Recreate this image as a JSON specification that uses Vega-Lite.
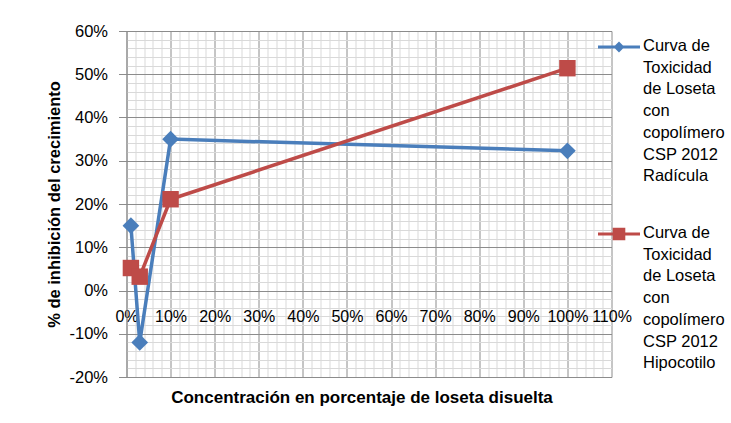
{
  "$schema": "https://vega.github.io/schema/vega-lite/v6.json",
  "width": 485,
  "height": 346,
  "autosize": {"type": "none"},
  "padding": {"left": 126.5, "top": 31, "right": 119.5, "bottom": 46},
  "background": "white",
  "config": {"view": {"stroke": null}, "font": "Liberation Sans"},
  "data": {
    "values": [
      {"s": "Curva de Toxicidad de Loseta con copolímero CSP 2012 Radícula", "x": 0.01, "y": 0.15},
      {"s": "Curva de Toxicidad de Loseta con copolímero CSP 2012 Radícula", "x": 0.03, "y": -0.12},
      {"s": "Curva de Toxicidad de Loseta con copolímero CSP 2012 Radícula", "x": 0.10, "y": 0.35},
      {"s": "Curva de Toxicidad de Loseta con copolímero CSP 2012 Radícula", "x": 1.00, "y": 0.323},
      {"s": "Curva de Toxicidad de Loseta con copolímero CSP 2012 Hipocotilo", "x": 0.01, "y": 0.052},
      {"s": "Curva de Toxicidad de Loseta con copolímero CSP 2012 Hipocotilo", "x": 0.03, "y": 0.032},
      {"s": "Curva de Toxicidad de Loseta con copolímero CSP 2012 Hipocotilo", "x": 0.10, "y": 0.211},
      {"s": "Curva de Toxicidad de Loseta con copolímero CSP 2012 Hipocotilo", "x": 1.00, "y": 0.514}
    ]
  },
  "layer": [
    {
      "transform": [{"filter": "false"}],
      "mark": {"type": "line"},
      "encoding": {
        "x": {"field": "x", "type": "quantitative", "scale": {"domain": [0, 1.1], "nice": false, "zero": false},
          "axis": {"orient": "top", "values": [0.02,0.04,0.06,0.08,0.12,0.14,0.16,0.18,0.22,0.24,0.26,0.28,0.32,0.34,0.36,0.38,0.42,0.44,0.46,0.48,0.52,0.54,0.56,0.58,0.62,0.64,0.66,0.68,0.72,0.74,0.76,0.78,0.82,0.84,0.86,0.88,0.92,0.94,0.96,0.98,1.02,1.04,1.06,1.08],
            "grid": true, "gridColor": "#d9d9d9", "gridOpacity": 1, "gridWidth": 1, "labels": false, "ticks": false, "domain": false, "title": null}},
        "y": {"field": "y", "type": "quantitative", "scale": {"domain": [-0.2, 0.6], "nice": false, "zero": false},
          "axis": {"orient": "right", "values": [-0.18,-0.16,-0.14,-0.12,-0.08,-0.06,-0.04,-0.02,0.02,0.04,0.06,0.08,0.12,0.14,0.16,0.18,0.22,0.24,0.26,0.28,0.32,0.34,0.36,0.38,0.42,0.44,0.46,0.48,0.52,0.54,0.56,0.58],
            "grid": true, "gridColor": "#d9d9d9", "gridOpacity": 1, "gridWidth": 1, "labels": false, "ticks": false, "domain": false, "title": null}}
      }
    },
    {
      "transform": [{"filter": "indexof(datum.s, 'Radícula') >= 0"}],
      "mark": {"type": "line", "strokeWidth": 3.5, "color": "#4a7ebb"},
      "encoding": {
        "x": {"field": "x", "type": "quantitative",
          "axis": {"orient": "bottom", "offset": -86.5, "values": [0,0.1,0.2,0.3,0.4,0.5,0.6,0.7,0.8,0.9,1.0,1.1], "format": ".0%",
            "grid": true, "gridColor": "#8c8c8c", "gridOpacity": 1, "domain": false, "ticks": false,
            "labelPadding": 18, "labelFontSize": 16, "labelColor": "black", "labelFlush": false, "labelOverlap": false,
            "title": "Concentración en porcentaje de loseta disuelta", "titleFontSize": 17, "titleFontWeight": "bold", "titleColor": "black", "titlePadding": 65, "titleX": 235}},
        "y": {"field": "y", "type": "quantitative",
          "axis": {"orient": "left", "values": [-0.2,-0.1,0,0.1,0.2,0.3,0.4,0.5,0.6], "format": ".0%", "labelExpr": "replace(datum.label, '−', '-')",
            "grid": true, "gridColor": "#8c8c8c", "gridOpacity": 1, "domain": true, "domainColor": "#8c8c8c", "ticks": true, "tickSize": 8, "tickColor": "#8c8c8c",
            "labelPadding": 11, "labelFontSize": 16.5, "labelColor": "black", "labelFlush": false, "labelOverlap": false,
            "title": "% de inhibición del crecimiento", "titleFontSize": 16.5, "titleFontWeight": "bold", "titleColor": "black", "titlePadding": 6}}
      }
    },
    {
      "transform": [{"filter": "indexof(datum.s, 'Hipocotilo') >= 0"}],
      "mark": {"type": "line", "strokeWidth": 3.5, "color": "#be4b48"},
      "encoding": {
        "x": {"field": "x", "type": "quantitative", "axis": null},
        "y": {"field": "y", "type": "quantitative", "axis": null}
      }
    },
    {
      "transform": [{"filter": "indexof(datum.s, 'Radícula') >= 0"}],
      "mark": {"type": "point", "shape": "diamond", "filled": true, "opacity": 1, "size": 280, "color": "#4a7ebb"},
      "encoding": {
        "x": {"field": "x", "type": "quantitative", "axis": null},
        "y": {"field": "y", "type": "quantitative", "axis": null}
      }
    },
    {
      "transform": [{"filter": "indexof(datum.s, 'Hipocotilo') >= 0"}],
      "mark": {"type": "point", "shape": "square", "filled": true, "opacity": 1, "size": 270, "color": "#be4b48"},
      "encoding": {
        "x": {"field": "x", "type": "quantitative", "axis": null},
        "y": {"field": "y", "type": "quantitative", "axis": null}
      }
    },
    {
      "transform": [{"filter": "false"}],
      "mark": {"type": "point", "filled": true, "opacity": 1},
      "encoding": {
        "x": {"field": "x", "type": "quantitative", "axis": null},
        "y": {"field": "y", "type": "quantitative", "axis": null},
        "color": {"field": "s", "type": "nominal",
          "scale": {"domain": ["Curva de Toxicidad de Loseta con copolímero CSP 2012 Radícula", "Curva de Toxicidad de Loseta con copolímero CSP 2012 Hipocotilo"], "range": ["#4a7ebb", "#be4b48"]},
          "legend": {"title": null, "orient": "none", "legendX": 471.5, "legendY": -5, "padding": 0, "symbolSize": 1764, "symbolStrokeWidth": 0, "symbolOpacity": 1,
            "labelFontSize": 16.5, "labelColor": "black", "labelOffset": 3, "labelLimit": 300, "labelBaseline": "top", "rowPadding": 28,
            "labelExpr": "['Curva de','Toxicidad','de Loseta','con','copolímero','CSP 2012', indexof(datum.label,'Radícula') >= 0 ? 'Radícula' : 'Hipocotilo']",
            "encode": {"labels": {"update": {"lineHeight": {"value": 21.7}, "dy": {"value": -9}}}}}},
        "shape": {"field": "s", "type": "nominal",
          "scale": {"domain": ["Curva de Toxicidad de Loseta con copolímero CSP 2012 Radícula", "Curva de Toxicidad de Loseta con copolímero CSP 2012 Hipocotilo"],
            "range": ["M-1,-0.075H1V0.075H-1Z M-0.26,0L0,-0.26L0.26,0L0,0.26Z", "M-1,-0.075H1V0.075H-1Z M-0.3,-0.3H0.3V0.3H-0.3Z"]},
          "legend": {"title": null, "orient": "none", "legendX": 471.5, "legendY": -5, "padding": 0, "symbolSize": 1764, "symbolStrokeWidth": 0, "symbolOpacity": 1,
            "labelFontSize": 16.5, "labelColor": "black", "labelOffset": 3, "labelLimit": 300, "labelBaseline": "top", "rowPadding": 28,
            "labelExpr": "['Curva de','Toxicidad','de Loseta','con','copolímero','CSP 2012', indexof(datum.label,'Radícula') >= 0 ? 'Radícula' : 'Hipocotilo']",
            "encode": {"labels": {"update": {"lineHeight": {"value": 21.7}, "dy": {"value": -9}}}}}}
      }
    }
  ],
  "resolve": {"axis": {"x": "independent", "y": "independent"}}
}
